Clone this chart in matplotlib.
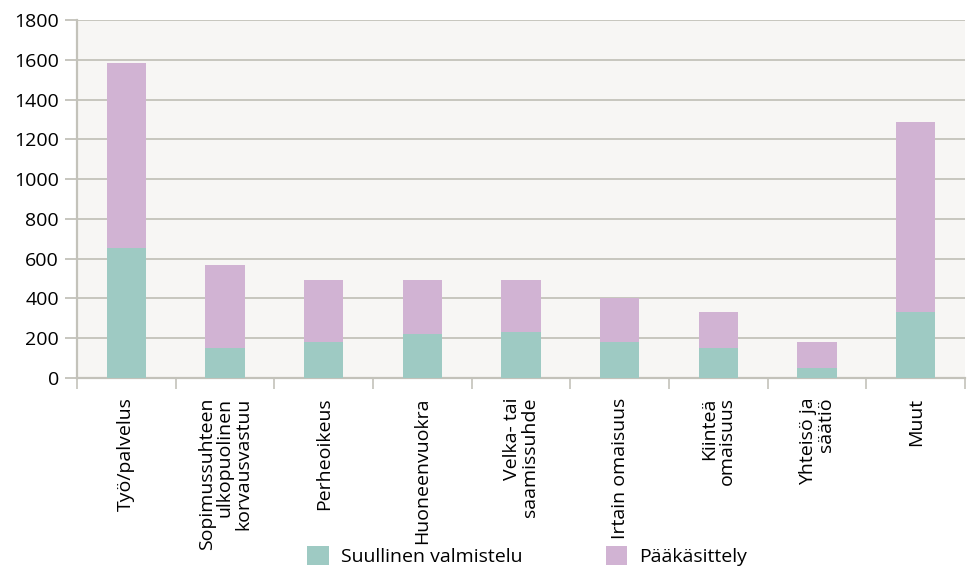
import numpy as np
import matplotlib.pyplot as plt

plt.rcParams['font.family'] = ['Open Sans', 'DejaVu Sans']

# data
categories = ["Työ/palvelus", "Sopimussuhteen\nulkopuolinen\nkorvausvastuu",
              "Perheoikeus", "Huoneenvuokra", "Velka- tai\nsaamissuhde",
              "Irtain omaisuus", "Kiinteä\nomaisuus", "Yhteisö ja\nsäätiö", "Muut"]
suullinen = [655, 150, 180, 220, 230, 180, 150, 50, 330]
paakasittely = [930, 420, 315, 275, 265, 220, 180, 130, 955]

green = "#9ecac3"
purple = "#d1b3d3"
grid_col = "#c3c2ba"

fig = plt.figure(figsize=(9.67, 5.75), dpi=100)
ax = fig.add_axes([0.0796, 0.3426, 0.9184, 0.6226])
ax.set_facecolor("#f7f6f4")

x = np.arange(len(categories))
ax.bar(x, suullinen, width=0.4, color=green, label="Suullinen valmistelu", zorder=3)
ax.bar(x, paakasittely, width=0.4, bottom=suullinen, color=purple,
       label="Pääkäsittely", zorder=3)

ax.set_xlim(-0.5, len(categories) - 0.5)
ax.set_ylim(0, 1800)
ax.set_yticks(np.arange(0, 1801, 200))
ax.yaxis.grid(True, color=grid_col, linewidth=1.3, zorder=1)

# labels at the centers, tick marks between categories
ax.set_xticks(x)
ax.set_xticklabels(categories, rotation=90, va="top", ha="center",
                   multialignment="right", fontsize=14, linespacing=1.0)
ax.tick_params(axis="x", which="major", length=0, pad=14)
ax.set_xticks(np.arange(-0.5, len(categories), 1), minor=True)
ax.tick_params(axis="x", which="minor", length=8, width=1.2, color=grid_col)
ax.tick_params(axis="y", length=9, width=1.3, color=grid_col, labelsize=14, pad=4)

for s in ["top", "right"]:
    ax.spines[s].set_visible(False)
for s in ["left", "bottom"]:
    ax.spines[s].set_color(grid_col)
    ax.spines[s].set_linewidth(1.6)

fig.legend(loc="lower center", bbox_to_anchor=(0.545, -0.015), ncol=2, frameon=False,
           fontsize=14, handlelength=1.1, handleheight=1.1, columnspacing=4.3,
           handletextpad=0.6)

fig.savefig("out.png", dpi=100)
